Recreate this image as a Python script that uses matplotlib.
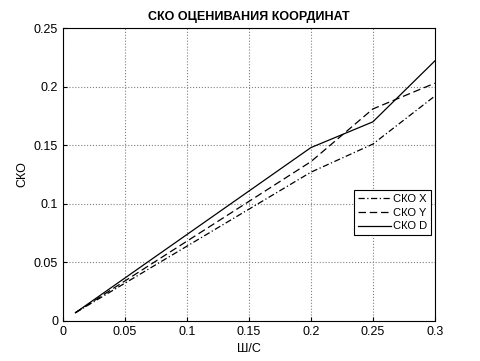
import matplotlib
matplotlib.use("Agg")
import matplotlib.pyplot as plt

plt.rcParams['font.family'] = ['Liberation Sans', 'DejaVu Sans']

x = [0.01, 0.2, 0.25, 0.3]
sko_x = [0.007, 0.127, 0.151, 0.192]
sko_y = [0.007, 0.136, 0.181, 0.203]
sko_d = [0.007, 0.148, 0.170, 0.222]

fig = plt.figure(figsize=(4.81, 3.61), dpi=100)
ax = fig.add_axes([0.131, 0.111, 0.773, 0.811])
ax.plot(x, sko_x, color='black', linestyle=(0, (5, 2, 1, 2)), lw=0.9, label='СКО X')
ax.plot(x, sko_y, color='black', linestyle=(0, (6, 3)), lw=0.9, label='СКО Y')
ax.plot(x, sko_d, color='black', linestyle='-', lw=0.9, label='СКО D')
ax.set_xlim(0, 0.3)
ax.set_ylim(0, 0.25)
ax.set_xticks([0, 0.05, 0.1, 0.15, 0.2, 0.25, 0.3])
ax.set_xticklabels(['0', '0.05', '0.1', '0.15', '0.2', '0.25', '0.3'])
ax.set_yticks([0, 0.05, 0.1, 0.15, 0.2, 0.25])
ax.set_yticklabels(['0', '0.05', '0.1', '0.15', '0.2', '0.25'])
ax.tick_params(direction='in', labelsize=9, length=3)
ax.grid(True, color='#808080', linestyle=':', lw=0.8)
ax.set_title('СКО ОЦЕНИВАНИЯ КООРДИНАТ', fontsize=9, fontweight='bold')
ax.set_xlabel('Ш/С', fontsize=9)
ax.set_ylabel('СКО', fontsize=9)
leg = ax.legend(loc='center right', bbox_to_anchor=(0.99, 0.37), fontsize=8, fancybox=False,
                framealpha=1, edgecolor='black', handlelength=3.0, borderpad=0.35,
                labelspacing=0.35, handletextpad=0.15, borderaxespad=0.0)
leg.get_frame().set_linewidth(0.8)
fig.savefig('out.png', dpi=100)
